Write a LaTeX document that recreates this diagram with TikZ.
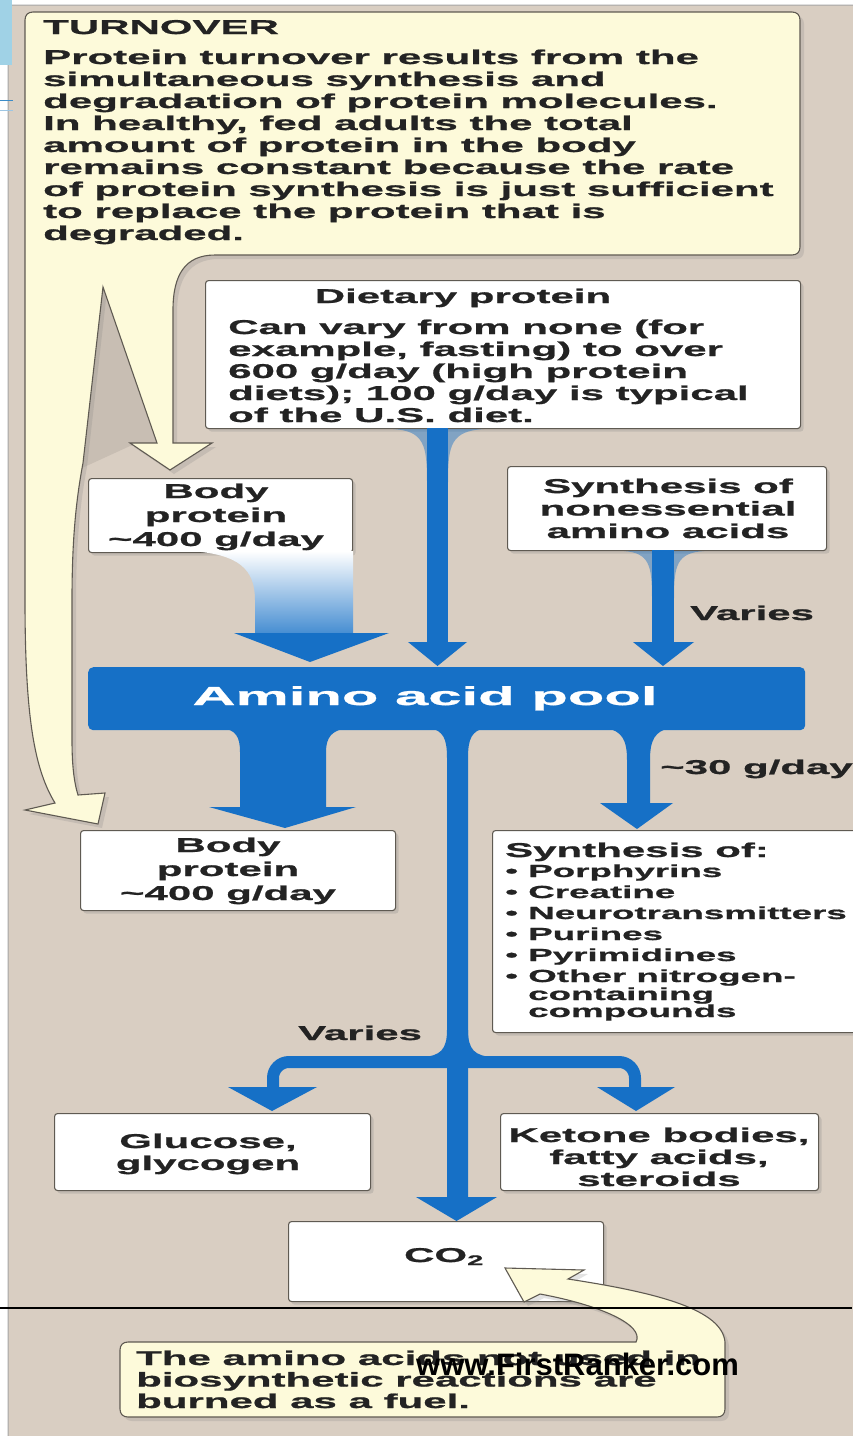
\documentclass[tikz,border=0pt]{standalone}
\usepackage{fontspec}
\setmainfont{Liberation Sans}
\newfontfamily\wf[FakeStretch=2.1, FakeBold=1]{Liberation Sans}
\newfontfamily\pf[FakeStretch=2.3, FakeBold=1]{Liberation Sans}
\usetikzlibrary{shadows}
\definecolor{bg}{RGB}{217,206,194}
\definecolor{bgdark}{RGB}{200,190,179}
\definecolor{cream}{RGB}{253,250,218}
\definecolor{pblue}{RGB}{22,112,198}
\definecolor{edge}{RGB}{95,90,82}
\definecolor{ink}{RGB}{35,35,35}
\definecolor{slideblue}{RGB}{160,210,230}
\definecolor{lineblue}{RGB}{60,140,200}
\newcommand\LL[1]{\vtop{\halign{##\hfil\cr#1\crcr}}}
\newcommand\CL[1]{\vtop{\halign{\hfil##\hfil\cr#1\crcr}}}
\begin{document}
\begin{tikzpicture}[x=1pt,y=-1pt,
  txt/.style={inner sep=0pt, text=ink, font=\wf\bfseries\fontsize{20}{22}\selectfont},
  box/.style={draw=edge, fill=white, line width=1.1pt, rounded corners=3pt, inner sep=0pt,
     anchor=north west, drop shadow={opacity=0.25, shadow xshift=3pt, shadow yshift=-3pt}},
  callout/.style={draw=edge, fill=cream, line width=1.1pt,
     drop shadow={opacity=0.22, shadow xshift=4pt, shadow yshift=-4pt}},
  flare/.style={fill=pblue, fill opacity=0.45}]
\useasboundingbox (0,0) rectangle (852,1436);
% backgrounds
\fill[white] (0,0) rectangle (852,1436);
\filldraw[fill=bg, draw=gray!70, line width=1pt, rounded corners=4pt] (8,5) rectangle (870,1450);
\fill[slideblue] (0,0) rectangle (12,65);
\draw[lineblue, line width=1pt] (0,100) -- (13,100);
\draw[lineblue!50, line width=0.6pt] (0,110) -- (13,110);

% wedge gap shading
\fill[bgdark] (103,287) -- (82,468) -- (130,446) -- (157,443) -- cycle;

% Turnover callout
\filldraw[callout] (25,20) .. controls (25,15) and (28,12) .. (33,12) -- (792,12)
  .. controls (797,12) and (800,15) .. (800,20) -- (800,247)
  .. controls (800,252) and (797,255) .. (792,255) -- (215,255)
  .. controls (185,255) and (173,275) .. (173,310) -- (173,443) -- (212,443) -- (170,470)
  -- (130,443) -- (157,443) -- (103,287) -- (83,463)
  .. controls (76,500) and (72,540) .. (72,600) -- (72,740)
  .. controls (72,765) and (74,782) .. (78,795) -- (105,793) -- (98,824) -- (25,810)
  -- (55,803) .. controls (35,770) and (25,720) .. (25,600) -- cycle;

\node[txt, anchor=base west] (turnTitle) at (43,34) {TURNOVER};
\node[txt, anchor=base west] (turnText) at (43,64) {\LL{Protein turnover results from the\cr
simultaneous synthesis and\cr degradation of protein molecules.\cr
In healthy, fed adults the total\cr amount of protein in the body\cr
remains constant because the rate\cr of protein synthesis is just sufficient\cr
to replace the protein that is\cr degraded.}};

% boxes
\node[box, minimum width=595pt, minimum height=148pt] (diet) at (205,280) {};
\node[box, minimum width=264pt, minimum height=74pt] (bp1) at (88,478) {};
\node[box, minimum width=319pt, minimum height=84pt] (ness) at (507,466) {};
\node[box, minimum width=315pt, minimum height=80pt] (bp2) at (80,830) {};
\node[box, minimum width=380pt, minimum height=202pt] (synth) at (492,830) {};
\node[box, minimum width=316pt, minimum height=77pt] (gluc) at (54,1113) {};
\node[box, minimum width=318pt, minimum height=77pt] (keto) at (500,1113) {};
\node[box, minimum width=315pt, minimum height=80pt] (co2) at (288,1221) {};

% dietary -> pool
\fill[flare] (393,429) .. controls (424,431) and (427,445) .. (427,482) -- (448,482)
  .. controls (448,445) and (451,431) .. (484,429) -- cycle;
\fill[pblue] (427,428) rectangle (448,645);
\fill[pblue] (408,642) -- (467,642) -- (437.5,666) -- cycle;

% nonessential -> pool
\fill[flare] (624,551) .. controls (649,553) and (652,565) .. (652,598) -- (674,598)
  .. controls (674,565) and (677,553) .. (704,551) -- cycle;
\fill[pblue] (652,550) rectangle (674,645);
\fill[pblue] (633,642) -- (694,642) -- (663,666) -- cycle;

% body protein -> pool (gradient)
\path[top color=white, bottom color=pblue!80] (190,551) .. controls (240,554) and (255,570) .. (255,600)
  -- (255,634) -- (353,634) -- (353,551) -- cycle;
\fill[pblue] (234,633) -- (389,633) -- (310,662) -- cycle;

% pool
\node[fill=pblue, rounded corners=5pt, inner sep=0pt, anchor=north west,
  minimum width=717pt, minimum height=63pt] (pool) at (88,667) {};
\node[txt, text=white, font=\pf\bfseries\fontsize{26}{28}\selectfont, anchor=base] (poolText) at (425,705) {Amino acid pool};

% outflows
\fill[pblue] (222,728) .. controls (236,730) and (240,737) .. (240,752) -- (240,807) -- (209,807)
  -- (285,828) -- (356,807) -- (326,807) -- (326,752) .. controls (326,737) and (332,730) .. (348,728) -- cycle;
\fill[pblue] (430,728) .. controls (443,731) and (447,738) .. (447,758) -- (447,1197) -- (416,1197)
  -- (456.5,1221) -- (497,1197) -- (468,1197) -- (468,758) .. controls (468,738) and (472,731) .. (485,728) -- cycle;
\fill[pblue] (606,728) .. controls (622,731) and (627,740) .. (627,760) -- (627,803) -- (600,803)
  -- (637,829) -- (673,803) -- (650,803) -- (650,760) .. controls (650,740) and (655,731) .. (670,728) -- cycle;

% branch
\draw[pblue, line width=12pt, rounded corners=16pt] (273,1090) -- (273,1062) -- (635,1062) -- (635,1090);
\fill[pblue] (422,1057) .. controls (440,1056) and (447,1050) .. (447,1030) -- (468,1030)
  .. controls (468,1050) and (475,1056) .. (493,1057) -- cycle;
\fill[pblue] (228,1087) -- (317,1087) -- (272,1111) -- cycle;
\fill[pblue] (597,1087) -- (675,1087) -- (636,1111) -- cycle;

% bottom callout
\filldraw[callout] (128,1342) -- (636,1342) .. controls (645,1325) and (600,1305) .. (540,1294)
  -- (524,1302) -- (505,1268) -- (584,1270) -- (568,1279)
  .. controls (660,1293) and (722,1310) .. (725,1342) -- (725,1409)
  .. controls (725,1414) and (722,1417) .. (717,1417) -- (128,1417)
  .. controls (123,1417) and (120,1414) .. (120,1409) -- (120,1350)
  .. controls (120,1345) and (123,1342) .. (128,1342) -- cycle;

% texts
\node[txt, anchor=base] (dietTitle) at (463,303) {Dietary protein};
\node[txt, anchor=base west] (dietText) at (228,334) {\LL{Can vary from none (for\cr
example, fasting) to over\cr 600 g/day (high protein\cr diets); 100 g/day is typical\cr of the U.S. diet.}};
\node[txt, anchor=base, font=\wf\bfseries\fontsize{20}{24}\selectfont] (bp1Text) at (216,498)
  {\CL{Body\cr protein\cr \textasciitilde400 g/day}};
\node[txt, anchor=base, font=\wf\bfseries\fontsize{20}{22.5}\selectfont] (nessText) at (668,493)
  {\CL{Synthesis of\cr nonessential\cr amino acids}};
\node[txt, anchor=base west] (varies1) at (690,620) {Varies};
\node[txt, anchor=base west] (g30) at (660,774) {\textasciitilde30 g/day};
\node[txt, anchor=base, font=\wf\bfseries\fontsize{20}{24}\selectfont] (bp2Text) at (228,852)
  {\CL{Body\cr protein\cr \textasciitilde400 g/day}};
\node[txt, anchor=base west] (synthTitle) at (505,857) {Synthesis of:};
\node[txt, anchor=base west, font=\wf\bfseries\fontsize{17.5}{21}\selectfont] (synthList) at (505,877)
  {\LL{\textbullet\ Porphyrins\cr \textbullet\ Creatine\cr \textbullet\ Neurotransmitters\cr
  \textbullet\ Purines\cr \textbullet\ Pyrimidines\cr \textbullet\ Other nitrogen-}};
\node[txt, anchor=base west, font=\wf\bfseries\fontsize{17.5}{17}\selectfont] (synthList2) at (528,1000)
  {\LL{containing\cr compounds}};
\node[txt, anchor=base west] (varies2) at (298,1040) {Varies};
\node[txt, anchor=base] (glucText) at (208,1148) {\CL{Glucose,\cr glycogen}};
\node[txt, anchor=base] (ketoText) at (659,1142) {\CL{Ketone bodies,\cr fatty acids,\cr steroids}};
\node[txt, anchor=base] (co2Text) at (444,1262) {CO\textsubscript{2}};
\node[txt, anchor=base west, font=\wf\bfseries\fontsize{20}{21.5}\selectfont] (burnText) at (136,1365)
  {\LL{The amino acids not used in\cr biosynthetic reactions are\cr burned as a fuel.}};

% slide rule and watermark
\draw[black, line width=2pt] (0,1308) -- (852,1308);
\node[inner sep=0pt, anchor=base west, text=black, font=\bfseries\fontsize{31}{33}\selectfont] (wm) at (416,1375) {www.FirstRanker.com};
\end{tikzpicture}
\end{document}
